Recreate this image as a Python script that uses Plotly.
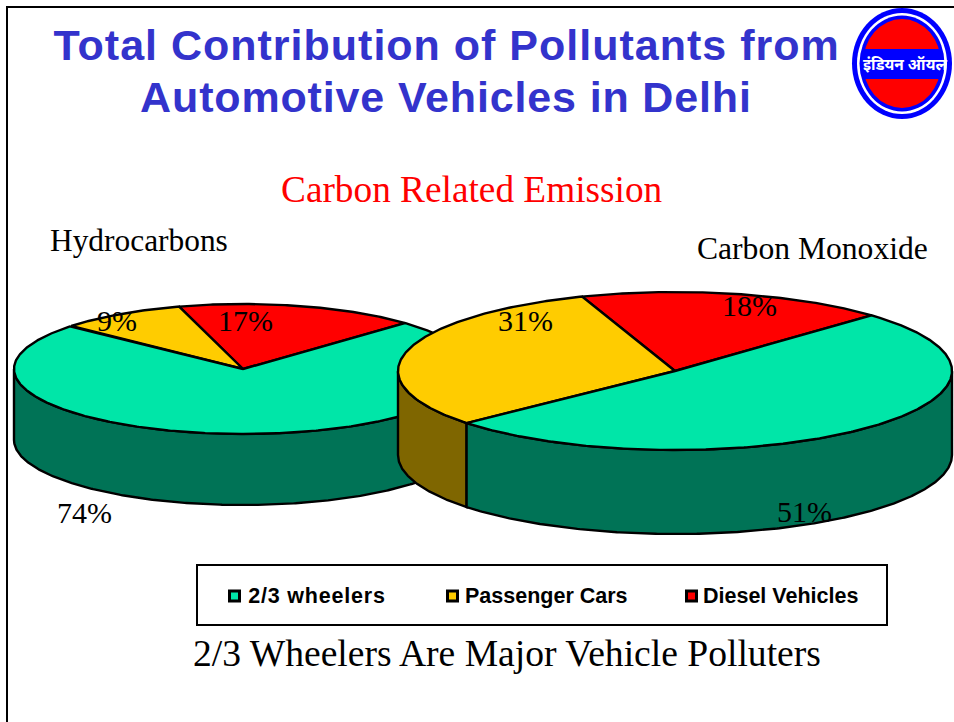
import numpy as np
import plotly.graph_objects as go

# --- data ---
categories = ["2/3 wheelers", "Passenger Cars", "Diesel Vehicles"]
hydrocarbons = [74, 9, 17]
carbon_monoxide = [51, 31, 18]
title_lines = ["Total Contribution of Pollutants from", "Automotive Vehicles in Delhi"]

# --- style ---
TOP = ["#00E6A8", "#FFCC00", "#FF0000"]
SIDE = ["#007356", "#7F6600", "#7F0000"]
SERIF = "Liberation Serif"
SANS = "Liberation Sans"
W, H = 954, 722

fig = go.Figure()


def arc(cx, cy, rx, ry, a0, a1, dy=0.0):
    t = np.radians(np.linspace(a0, a1, max(int(abs(a1 - a0) * 2), 2)))
    return cx + rx * np.cos(t), cy - ry * np.sin(t) + dy


def poly(x, y, color):
    fig.add_trace(go.Scatter(x=np.round(x, 2).tolist(), y=np.round(y, 2).tolist(), mode="lines", fill="toself",
                             fillcolor=color, line=dict(color="black", width=2.4),
                             hoverinfo="skip", showlegend=False))


def pie3d(values, cx, cy, rx, ry, depth, start):
    # slices run counter-clockwise from `start`, in reverse category order
    a = start
    spans = []
    for i in [2, 1, 0]:
        b = a + values[i] * 3.6
        spans.append((i, a, b))
        a = b
    # side walls: only the front half (180..360 degrees) is visible
    for i, a0, b0 in spans:
        for k in (0, 360):
            lo, hi = max(a0, 180 + k), min(b0, 360 + k)
            if hi > lo:
                x1, y1 = arc(cx, cy, rx, ry, lo, hi)
                x2, y2 = arc(cx, cy, rx, ry, hi, lo, depth)
                poly(np.r_[x1, x2, x1[0]], np.r_[y1, y2, y1[0]], SIDE[i])
    # top faces
    for i, a0, b0 in spans:
        x, y = arc(cx, cy, rx, ry, a0, b0)
        poly(np.r_[cx, x, cx], np.r_[cy, y, cy], TOP[i])


pie3d(hydrocarbons, 243, 369, 229, 65, 71, 45)
pie3d(carbon_monoxide, 675, 371, 277, 79, 84, 44.8)

# legend swatches
fig.add_trace(go.Scatter(x=[234.5, 452.5, 691.5], y=[596] * 3, mode="markers", showlegend=False, hoverinfo="skip",
                         marker=dict(symbol="square", size=10, color=TOP, line=dict(color="black", width=3))))

ann = []


def text(s, x, y, size, color="black", font=SERIF, anchor="center", bold=False):
    ann.append(dict(x=x, y=y, xref="x", yref="y", text=f"<b>{s}</b>" if bold else s, showarrow=False,
                    xanchor=anchor, yanchor="middle", font=dict(family=font, size=size, color=color)))


text(title_lines[0], 446, 45, 43, "#3333CC", SANS, bold=True)
text(title_lines[1], 446, 97, 43, "#3333CC", SANS, bold=True)
text("Carbon Related Emission", 471.5, 189, 37.3, "#FF0000")
text("Hydrocarbons", 139, 240, 31.4)
text("Carbon Monoxide", 812.5, 248, 31.6)
for s, x, y in [(hydrocarbons[1], 117, 320), (hydrocarbons[2], 245.5, 320), (hydrocarbons[0], 84, 512.5),
                (carbon_monoxide[1], 525, 320), (carbon_monoxide[2], 749, 305), (carbon_monoxide[0], 804, 511.5)]:
    text(f"{s}%", x, y, 30)
for s, x in zip(categories, [251, 463, 701]):
    text(s, x, 595.5, 21.5, "black", SANS, "left", True)
text("2/3 Wheelers Are Major Vehicle Polluters", 507, 653, 37.6)
text("इंडियन ऑयल", 905, 64, 15.5, "white", "Noto Sans", bold=True)

shapes = [
    dict(type="line", x0=7, x1=7, y0=7, y1=722, line=dict(color="black", width=2)),
    dict(type="line", x0=6, x1=954, y0=7, y1=7, line=dict(color="black", width=2)),
    dict(type="rect", x0=197, x1=887, y0=565, y1=625, line=dict(color="black", width=2), fillcolor="rgba(0,0,0,0)"),
    dict(type="circle", x0=852, x1=952, y0=8, y1=119, fillcolor="#0000FF", line_width=0),
    dict(type="circle", x0=857, x1=947, y0=13, y1=114, fillcolor="white", line_width=0),
    dict(type="circle", x0=859.5, x1=944.5, y0=15.5, y1=111.5, fillcolor="#0000FF", line_width=0),
    dict(type="circle", x0=863, x1=941, y0=19, y1=108, fillcolor="#FF0000", line_width=0),
    dict(type="rect", x0=862, x1=942, y0=49, y1=79, fillcolor="#0000FF", line_width=0),
]
for s in shapes:
    s["xref"], s["yref"] = "x", "y"

fig.update_layout(
    width=W, height=H, margin=dict(l=0, r=0, t=0, b=0), paper_bgcolor="white", plot_bgcolor="white",
    xaxis=dict(range=[0, W], visible=False, fixedrange=True),
    yaxis=dict(range=[H, 0], visible=False, fixedrange=True),
    annotations=ann, shapes=shapes, showlegend=False,
)
# Liberation Sans Bold is tighter than the original faces: open up a few labels slightly
post = """
document.body.style.margin='0';document.body.style.overflow='hidden';
var sp={'Total Contribution':'1px','Automotive':'0.85px','2/3 wheelers':'0.8px'};
document.querySelectorAll('.annotation-text').forEach(function(t){
  Object.keys(sp).forEach(function(k){
    if (t.textContent.indexOf(k)===0) { t.style.letterSpacing=sp[k]; }
  });
});
"""
fig.write_html("out.html", config={"displayModeBar": False}, post_script=post)
